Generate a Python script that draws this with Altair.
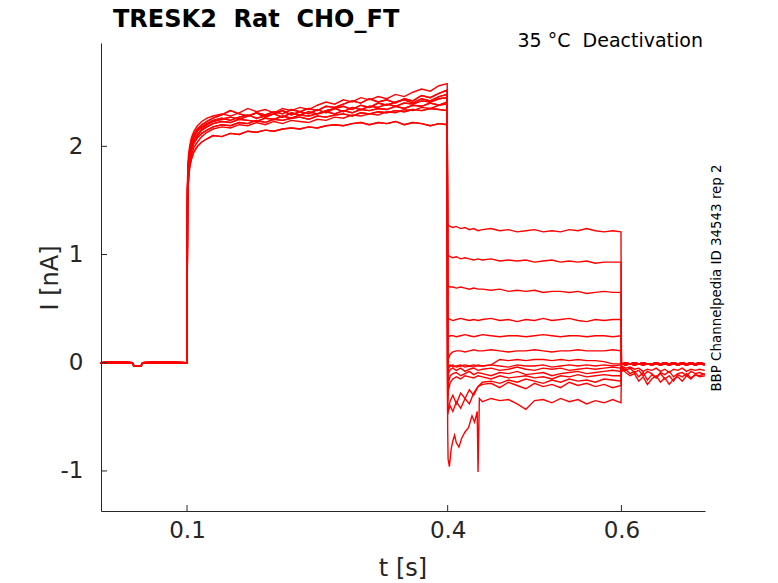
import altair as alt
import pandas as pd

FONT = "DejaVu Sans"
INK = "#262626"
NB = "\u00a0"

# ---- axis ticks ----
XTICKS = [0.1, 0.4, 0.6]
YTICKS = [-1, 0, 1, 2]

# ---- holding baseline (shared by all sweeps) ----
BASE_T = [0.0, 0.02, 0.037, 0.039, 0.047, 0.049, 0.07, 0.0995]
BASE_I = [0.0, 0.005, 0.0, -0.03, -0.03, 0.0, 0.005, 0.0]

# ---- activation step 0.1 .. 0.4 s ----
ACT_T = [0.1, 0.1006, 0.1015, 0.103, 0.105, 0.108, 0.112, 0.117, 0.123, 0.13,
         0.14, 0.15, 0.16, 0.17, 0.18, 0.19, 0.20, 0.21, 0.22, 0.23,
         0.24, 0.25, 0.26, 0.27, 0.28, 0.29, 0.30, 0.31, 0.32, 0.33,
         0.34, 0.35, 0.36, 0.37, 0.38, 0.39, 0.3995]
A1 = [0, 1.45, 1.65, 1.80, 1.88, 1.95, 2.00, 2.04, 2.07, 2.10, 2.09, 2.12, 2.11, 2.14, 2.13, 2.15, 2.14, 2.16, 2.17, 2.16,
      2.18, 2.17, 2.19, 2.20, 2.19, 2.21, 2.22, 2.20, 2.22, 2.21, 2.23, 2.20, 2.22, 2.21, 2.19, 2.21, 2.20]
A2 = [0, 1.55, 1.75, 1.88, 1.96, 2.03, 2.08, 2.12, 2.15, 2.18, 2.20, 2.19, 2.22, 2.21, 2.24, 2.22, 2.25, 2.24, 2.26, 2.27,
      2.25, 2.28, 2.27, 2.29, 2.30, 2.28, 2.31, 2.30, 2.32, 2.31, 2.33, 2.32, 2.34, 2.33, 2.35, 2.34, 2.33]
A3 = [0, 1.6, 1.8, 1.92, 2.0, 2.06, 2.11, 2.15, 2.18, 2.21, 2.23, 2.22, 2.25, 2.24, 2.23, 2.26, 2.25, 2.28, 2.26, 2.29,
      2.28, 2.30, 2.32, 2.30, 2.33, 2.31, 2.34, 2.33, 2.35, 2.34, 2.37, 2.35, 2.38, 2.37, 2.40, 2.38, 2.41]
A4 = [0, 1.62, 1.82, 1.95, 2.03, 2.09, 2.14, 2.18, 2.21, 2.24, 2.26, 2.24, 2.27, 2.29, 2.26, 2.28, 2.30, 2.27, 2.31, 2.29,
      2.32, 2.30, 2.33, 2.35, 2.32, 2.36, 2.34, 2.37, 2.36, 2.39, 2.37, 2.40, 2.39, 2.42, 2.41, 2.44, 2.45]
A5 = [0, 1.58, 1.78, 1.9, 1.99, 2.05, 2.10, 2.16, 2.20, 2.23, 2.25, 2.27, 2.25, 2.28, 2.31, 2.27, 2.30, 2.33, 2.29, 2.32,
      2.30, 2.34, 2.31, 2.35, 2.37, 2.34, 2.38, 2.36, 2.40, 2.38, 2.41, 2.43, 2.40, 2.44, 2.42, 2.46, 2.48]
A6 = [0, 1.65, 1.85, 1.97, 2.05, 2.11, 2.16, 2.20, 2.23, 2.26, 2.29, 2.33, 2.30, 2.28, 2.31, 2.29, 2.32, 2.30, 2.34, 2.32,
      2.35, 2.33, 2.37, 2.36, 2.39, 2.42, 2.40, 2.44, 2.41, 2.43, 2.40, 2.44, 2.42, 2.47, 2.45, 2.49, 2.52]
A7 = [0, 1.7, 1.9, 2.0, 2.08, 2.14, 2.19, 2.23, 2.26, 2.28, 2.30, 2.28, 2.31, 2.35, 2.32, 2.34, 2.31, 2.35, 2.33, 2.36,
      2.34, 2.38, 2.41, 2.39, 2.43, 2.41, 2.45, 2.43, 2.46, 2.44, 2.48, 2.46, 2.50, 2.53, 2.51, 2.56, 2.58]
A8 = [0, 1.5, 1.7, 1.84, 1.92, 1.99, 2.04, 2.09, 2.13, 2.16, 2.18, 2.17, 2.20, 2.19, 2.22, 2.20, 2.23, 2.21, 2.24, 2.23,
      2.22, 2.25, 2.24, 2.27, 2.26, 2.29, 2.28, 2.30, 2.29, 2.32, 2.31, 2.34, 2.33, 2.36, 2.35, 2.38, 2.39]
ACTS = [A1, A2, A3, A4, A5, A6, A7, A8]

# ---- tail currents 0.4 .. 0.6 s ----
TAIL_T = [0.4, 0.401, 0.403, 0.406, 0.41, 0.415, 0.42, 0.425, 0.43, 0.435,
          0.44, 0.45, 0.46, 0.47, 0.48, 0.49, 0.50, 0.51, 0.52, 0.53,
          0.54, 0.55, 0.56, 0.57, 0.58, 0.59, 0.5995]
T1 = [1.28, 1.27, 1.26, 1.25, 1.26, 1.24, 1.25, 1.23, 1.24, 1.22, 1.23, 1.24, 1.22, 1.23, 1.21, 1.22, 1.23, 1.21, 1.22, 1.21,
      1.23, 1.22, 1.24, 1.22, 1.21, 1.22, 1.21]
T2 = [1.0, 0.99, 0.98, 0.97, 0.98, 0.96, 0.97, 0.96, 0.95, 0.96, 0.95, 0.96, 0.94, 0.95, 0.94, 0.95, 0.93, 0.94, 0.95, 0.93,
      0.94, 0.93, 0.94, 0.92, 0.93, 0.93, 0.93]
T3 = [0.72, 0.71, 0.70, 0.70, 0.69, 0.70, 0.69, 0.68, 0.69, 0.68, 0.68, 0.67, 0.68, 0.66, 0.67, 0.66, 0.67, 0.65, 0.66, 0.66,
      0.65, 0.66, 0.64, 0.65, 0.66, 0.65, 0.65]
T4 = [0.40, 0.41, 0.40, 0.39, 0.40, 0.41, 0.40, 0.39, 0.40, 0.39, 0.40, 0.41, 0.39, 0.40, 0.38, 0.40, 0.39, 0.41, 0.39, 0.40,
      0.41, 0.39, 0.38, 0.40, 0.39, 0.40, 0.40]
T5 = [0.22, 0.24, 0.25, 0.25, 0.24, 0.25, 0.26, 0.25, 0.24, 0.25, 0.26, 0.25, 0.24, 0.25, 0.25, 0.24, 0.25, 0.26, 0.25, 0.24,
      0.25, 0.25, 0.24, 0.25, 0.25, 0.24, 0.25]
T6 = [0.0, 0.04, 0.08, 0.10, 0.11, 0.11, 0.10, 0.11, 0.12, 0.11, 0.11, 0.12, 0.11, 0.10, 0.11, 0.11, 0.12, 0.11, 0.10, 0.11,
      0.11, 0.12, 0.11, 0.11, 0.11, 0.12, 0.11]
T7 = [-0.02, -0.03, -0.02, -0.04, -0.03, -0.02, -0.04, -0.03, -0.02, -0.03, -0.03, -0.02, 0.03, 0.02, 0.03, 0.02, 0.03, 0.03,
      0.02, 0.03, 0.02, 0.03, 0.02, 0.02, 0.01, -0.01, -0.01]
T8 = [-0.1, -0.05, -0.03, -0.02, -0.04, -0.03, -0.02, -0.03, -0.04, -0.02, -0.03, -0.02, -0.03, -0.04, -0.02, -0.03, -0.03,
      -0.02, -0.04, -0.03, -0.02, -0.03, -0.02, -0.03, -0.02, -0.03, -0.02]
T9 = [-0.2, -0.1, -0.06, -0.05, -0.07, -0.05, -0.08, -0.06, -0.05, -0.07, -0.06, -0.05, -0.07, -0.06, -0.04, -0.06, -0.07,
      -0.05, -0.06, -0.05, -0.07, -0.06, -0.05, -0.06, -0.05, -0.04, -0.05]
T10 = [-0.3, -0.18, -0.12, -0.1, -0.09, -0.12, -0.1, -0.08, -0.11, -0.09, -0.1, -0.12, -0.09, -0.1, -0.08, -0.11, -0.1,
       -0.09, -0.12, -0.1, -0.09, -0.08, -0.1, -0.09, -0.08, -0.07, -0.08]
T11 = [-0.35, -0.25, -0.18, -0.15, -0.13, -0.15, -0.12, -0.13, -0.14, -0.12, -0.13, -0.15, -0.12, -0.14, -0.13, -0.12, -0.14,
       -0.13, -0.15, -0.12, -0.13, -0.11, -0.13, -0.12, -0.11, -0.12, -0.12]
T12 = [-0.48, -0.44, -0.4, -0.45, -0.36, -0.42, -0.33, -0.38, -0.28, -0.22, -0.18, -0.17, -0.19, -0.16, -0.18, -0.15, -0.17,
       -0.19, -0.16, -0.18, -0.15, -0.17, -0.16, -0.18, -0.15, -0.16, -0.17]
T13 = [-0.45, -0.42, -0.35, -0.3, -0.38, -0.28, -0.33, -0.25, -0.3, -0.22, -0.2, -0.19, -0.23, -0.18, -0.21, -0.24, -0.19,
       -0.22, -0.2, -0.23, -0.18, -0.21, -0.19, -0.22, -0.2, -0.23, -0.21]
# sweep with the early downward spikes
T14_T = [0.4, 0.4005, 0.402, 0.404, 0.406, 0.408, 0.41, 0.413, 0.416, 0.42,
         0.424, 0.428, 0.431, 0.434, 0.435, 0.4365, 0.44, 0.45, 0.46, 0.47,
         0.48, 0.49, 0.5, 0.51, 0.52, 0.53, 0.54, 0.55, 0.56, 0.57,
         0.58, 0.59, 0.5995]
T14 = [-0.6, -0.89, -0.96, -0.8, -0.72, -0.67, -0.74, -0.78, -0.7, -0.64, -0.6, -0.49, -0.55, -0.45, -1.01,
       -0.33, -0.36, -0.33, -0.35, -0.34, -0.38, -0.43, -0.35, -0.34, -0.37, -0.33, -0.36, -0.34, -0.38, -0.35,
       -0.37, -0.34, -0.37]
TAILS = [(TAIL_T, T1), (TAIL_T, T2), (TAIL_T, T3), (TAIL_T, T4), (TAIL_T, T5), (TAIL_T, T6), (TAIL_T, T7),
         (TAIL_T, T8), (TAIL_T, T9), (TAIL_T, T10), (TAIL_T, T11), (TAIL_T, T12), (TAIL_T, T13), (T14_T, T14)]

# ---- return to holding 0.6 .. 0.697 s ----
POST_T = [0.6, 0.6005, 0.605, 0.61, 0.615, 0.62, 0.625, 0.63, 0.635, 0.64, 0.645,
          0.65, 0.655, 0.66, 0.665, 0.67, 0.675, 0.68, 0.685, 0.69, 0.696]
P_FLAT_A = [0.0, -0.01, 0.0, -0.01, 0.0, -0.01, 0.0, -0.01, -0.01, 0.0, -0.01, 0.0, -0.01, 0.0, -0.01, 0.0, -0.01, 0.0,
            -0.01, 0.0, -0.01]
P_FLAT_B = [-0.02, -0.01, -0.02, -0.01, -0.02, -0.01, -0.02, -0.01, -0.02, -0.01, -0.02, -0.01, -0.02, -0.01, -0.02,
            -0.01, -0.02, -0.01, -0.02, -0.01, -0.02]
P_MID = [-0.02, -0.03, -0.05, -0.04, -0.06, -0.05, -0.08, -0.06, -0.07, -0.05, -0.08, -0.06, -0.09, -0.06, -0.07,
         -0.05, -0.08, -0.06, -0.07, -0.06, -0.07]
P_NOISY1 = [-0.05, -0.08, -0.06, -0.1, -0.08, -0.13, -0.09, -0.16, -0.11, -0.14, -0.1, -0.15, -0.12, -0.17, -0.11,
            -0.13, -0.1, -0.14, -0.11, -0.12, -0.1]
P_NOISY2 = [-0.08, -0.05, -0.09, -0.12, -0.1, -0.17, -0.13, -0.2, -0.15, -0.12, -0.18, -0.14, -0.2, -0.15, -0.13,
            -0.17, -0.12, -0.15, -0.11, -0.13, -0.12]
P_NOISY3 = [-0.03, -0.04, -0.07, -0.05, -0.09, -0.07, -0.12, -0.08, -0.1, -0.14, -0.09, -0.11, -0.08, -0.13, -0.1,
            -0.09, -0.12, -0.08, -0.1, -0.09, -0.11]
POSTS = [P_FLAT_A, P_FLAT_B, P_FLAT_A, P_FLAT_B, P_FLAT_A, P_FLAT_B, P_FLAT_A, P_FLAT_B, P_FLAT_A, P_FLAT_B,
         P_MID, P_NOISY3, P_NOISY1, P_NOISY2]

# ---- assemble sweeps ----
rows = []
idx = 0
for k in range(len(TAILS)):
    segs = [(BASE_T, BASE_I), (ACT_T, ACTS[k % len(ACTS)]), TAILS[k], (POST_T, POSTS[k])]
    for ts, vs in segs:
        for t, v in zip(ts, vs):
            rows.append({"sweep": f"s{k}", "t": t, "I": v, "i": idx})
            idx += 1
df = pd.DataFrame(rows)

W, H = 604, 468
xs = alt.Scale(domain=[0.001, 0.6962], nice=False, zero=False)
ys = alt.Scale(domain=[-1.37, 2.955], nice=False, zero=False)

XAXIS = alt.Axis(values=XTICKS, ticks=False, grid=False, domainColor=INK, domainWidth=1,
                 labelFont=FONT, labelFontSize=23, labelColor=INK, labelPadding=8,
                 labelExpr="'' + datum.value", title=None)
YAXIS = alt.Axis(values=YTICKS, ticks=False, grid=False, domainColor=INK, domainWidth=1,
                 labelFont=FONT, labelFontSize=23, labelColor=INK, labelPadding=18,
                 labelExpr="'' + datum.value", title=None)

lines = alt.Chart(df).mark_line(color="#ff0000", strokeWidth=1.4).encode(
    x=alt.X("t:Q", scale=xs, axis=XAXIS),
    y=alt.Y("I:Q", scale=ys, axis=YAXIS),
    detail="sweep:N",
    order="i:Q",
)

xtick_rules = alt.Chart(pd.DataFrame({"t": XTICKS})).mark_rule(color=INK, strokeWidth=1).encode(
    x=alt.X("t:Q", scale=xs, axis=XAXIS), y=alt.value(H), y2=alt.value(H - 6))
ytick_rules = alt.Chart(pd.DataFrame({"I": YTICKS})).mark_rule(color=INK, strokeWidth=1).encode(
    y=alt.Y("I:Q", scale=ys, axis=YAXIS), x=alt.value(0), x2=alt.value(6))


def label(txt, x, y, size, weight="normal", angle=0, align="center", baseline="alphabetic", color=INK):
    return alt.Chart(pd.DataFrame({"txt": [txt]})).mark_text(
        font=FONT, fontSize=size, fontWeight=weight, angle=angle, align=align,
        baseline=baseline, color=color).encode(text="txt:N", x=alt.value(x), y=alt.value(y))


title = label(f"TRESK2{NB} Rat{NB} CHO_FT", 12, -16.5, 24, weight="bold", align="left", color="#000000")
cond = label(f"35 °C{NB} Deactivation", 602, 3.5, 19, align="right", color="#000000")
side = label("BBP Channelpedia ID 34543 rep 2", 620, 235, 13.4, angle=270, color="#000000")
ylab = label("I [nA]", -43, 235, 24, angle=270)
xlab = label("t [s]", 302, 533, 24)

chart = alt.layer(lines, xtick_rules, ytick_rules, title, cond, side, ylab, xlab).properties(
    width=W, height=H,
    autosize=alt.AutoSizeParams(type="none"),
    padding={"left": 93, "top": 35, "right": 60, "bottom": 72},
).configure_view(stroke=None)

chart.save("out.html", embed_options={"renderer": "svg", "actions": False})
